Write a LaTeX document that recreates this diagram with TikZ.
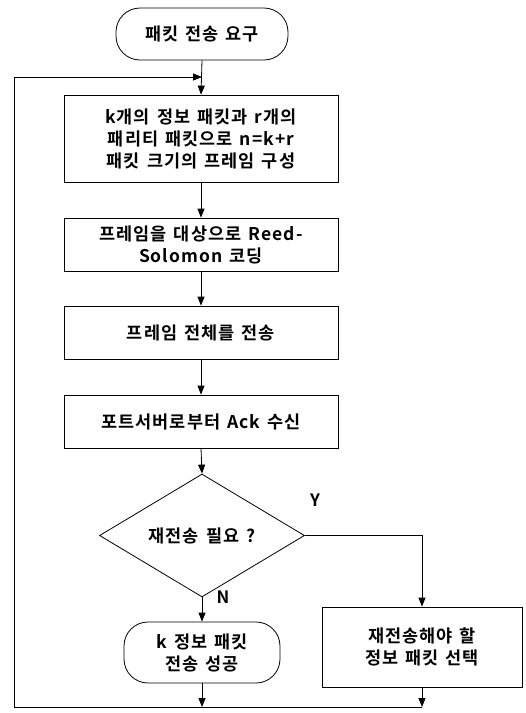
\documentclass[tikz,border=0pt]{standalone}
\usepackage{fontspec}
\setmainfont{Noto Sans CJK KR}[BoldFont={Noto Sans CJK KR Bold},WordSpace={1.4},LetterSpace=6]
\usetikzlibrary{arrows.meta,shapes.geometric}
\begin{document}
\begin{tikzpicture}[x=1pt,y=1pt,
  every node/.style={font=\fontsize{17.5}{22}\selectfont\bfseries},
  procbox/.style={draw,line width=0.8pt,align=center,inner sep=0pt},
  termbox/.style={draw,line width=0.8pt,align=center,rounded corners=24pt,inner sep=0pt},
  decbox/.style={draw,line width=0.8pt,diamond,inner sep=0pt,minimum width=205pt,minimum height=103pt},
  lbl/.style={font=\fontsize{17}{18}\selectfont\bfseries},
  conn/.style={line width=0.8pt},
  arr/.style={line width=0.8pt,-{Triangle[length=9pt,width=7pt]}}]
\useasboundingbox (0,0) rectangle (526,-713);
\node[termbox,minimum width=172pt,minimum height=52pt] (start) at (202,-34) {패킷 전송 요구};
\node[procbox,minimum width=274pt,minimum height=87pt] (b1) at (201,-138.5) {k개의 정보 패킷과 r개의\\패리티 패킷으로 n=k+r\\패킷 크기의 프레임 구성};
\node[procbox,minimum width=274pt,minimum height=53pt] (b2) at (201,-244.5) {프레임을 대상으로 Reed-\\Solomon 코딩};
\node[procbox,minimum width=274pt,minimum height=53pt] (b3) at (201,-332.5) {프레임 전체를 전송};
\node[procbox,minimum width=274pt,minimum height=53pt] (b4) at (201,-421.5) {포트서버로부터 Ack 수신};
\node[decbox] (dec) at (202,-535.5) {재전송 필요 ?};
\node[termbox,minimum width=156pt,minimum height=61pt] (ok) at (202,-652.5) {k 정보 패킷\\전송 성공};
\node[procbox,minimum width=200pt,minimum height=80pt] (b5) at (422,-647) {재전송해야 할\\정보 패킷 선택};
\node[lbl] (ylab) at (315,-500) {Y};
\node[lbl] (nlab) at (223,-597) {N};
\coordinate (join) at (202,-77);
\coordinate (lt) at (14,-77);
\coordinate (lb) at (14,-707);
\coordinate (okb) at (202,-707);
\coordinate (b5b) at (422,-707);
\coordinate (yc) at (422,-535.5);
\draw[arr] (start.south) -- (b1.north);
\draw[arr] (b1.south) -- (b2.north);
\draw[arr] (b2.south) -- (b3.north);
\draw[arr] (b3.south) -- (b4.north);
\draw[arr] (b4.south) -- (dec.north);
\draw[arr] (dec.south) -- (ok.north);
\draw[arr] (dec.east) -- (yc) -- (b5.north);
\draw[arr] (ok.south) -- (okb);
\draw[arr] (b5.south) -- (b5b);
\draw[arr] (b5b) -- (lb) -- (lt) -- (join);
\end{tikzpicture}
\end{document}
